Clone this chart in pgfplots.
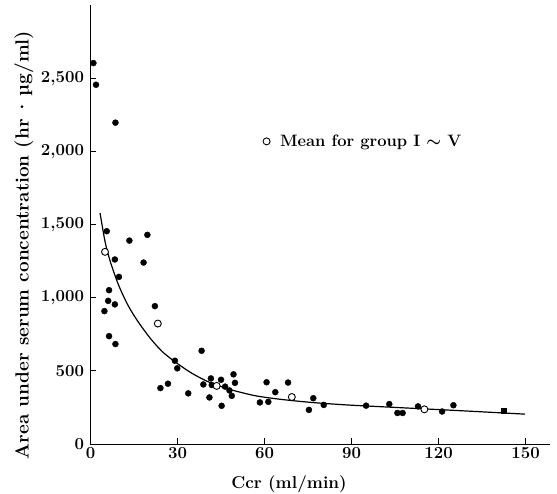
\RequirePackage{fix-cm}
\documentclass[border=0pt]{standalone}
\usepackage{fontspec}
\usepackage{pgfplots}
\pgfplotsset{compat=1.18}
\begin{document}
\begin{tikzpicture}[font=\fontsize{16.5}{19}\selectfont\bfseries]
\useasboundingbox (-90.5pt,-50pt) rectangle (466.5pt,444pt);
\begin{axis}[
  scale only axis, width=459.5pt, height=439pt,
  xmin=0, xmax=158.4, ymin=0, ymax=3000,
  clip=false,
  axis lines=left, axis line style={line width=0.9pt, -},
  xtick={0,30,...,150}, ytick={0,500,...,2500},
  tick align=inside, major tick length=6pt, tick style={line width=0.8pt, black},
  /pgf/number format/assume math mode=true,
  /pgf/number format/1000 sep={,},
  ticklabel style={font=\fontsize{16.8}{19}\selectfont\bfseries},
  yticklabel style={xshift=-3pt},
  xlabel={Ccr (ml/min)},
  ylabel={Area under serum concentration (hr\,·\,µg/ml)},
  xlabel style={at={(axis description cs:0.432,-0.0911)}, anchor=center,
    font=\fontsize{17.2}{20}\selectfont\bfseries},
  ylabel style={at={(axis description cs:-0.1447,0.4533)}, anchor=center,
    font=\fontsize{19}{21}\selectfont\bfseries},
  legend style={draw=none, fill=none, at={(axis cs:59.1,2068)}, anchor=west,
    font=\fontsize{16.5}{19}\selectfont\bfseries, inner sep=0pt},
  legend image code/.code={\draw[#1] plot coordinates {(4pt,0pt)}; \path (0pt,0pt) (15pt,0pt);},
]
% fitted curve
\addplot[black, line width=1.2pt, smooth, forget plot] coordinates {
(3.3,1578) (5.0,1385) (6.7,1255) (9.6,1090) (13.0,945) (16.5,833)
(20.5,725) (24.6,634) (29.1,562) (34.9,484) (40.6,425) (46.4,383)
(50.4,360) (57.3,328) (66.5,303) (76.8,283) (88.3,267) (100,255)
(115,240) (130,225) (149.8,204)
};
% individual patients
\addplot[only marks, mark=*, mark size=3pt, black, forget plot] coordinates {
(1.0,2603) (1.9,2455) (8.6,2196)
(5.6,1454) (13.4,1390) (19.6,1429) (8.4,1261) (18.3,1240) (9.8,1142)
(6.4,1051) (6.1,978) (8.4,954) (4.8,908) (22.2,942) (6.4,737) (8.6,683)
(38.3,637) (29.1,569) (29.9,517) (26.7,412) (24.1,382) (33.7,346)
(38.9,407) (41.5,448) (41.8,403) (45.0,439) (46.4,392) (47.9,366)
(41.0,318) (45.2,261) (48.7,329) (49.3,476) (49.8,418)
(60.7,422) (58.4,284) (61.3,288) (63.7,354) (68.1,420)
(76.8,313) (75.3,233) (80.4,267)
(95.0,262) (103.0,273) (105.8,212) (107.6,212) (112.9,257)
(121.2,222) (125.1,265)
};
\addplot[only marks, mark=square*, mark size=2.5pt, black, forget plot] coordinates {
(142.4,225)
};
% group means
\addplot[only marks, mark=*, mark size=3.5pt, line width=0.9pt,
  mark options={fill=white, draw=black}] coordinates {
(5.0,1313) (23.2,823) (43.5,397) (69.4,321) (115.1,237)
};
\addlegendentry{Mean for group I {\boldmath$\sim$} V}
\end{axis}
\end{tikzpicture}
\end{document}
